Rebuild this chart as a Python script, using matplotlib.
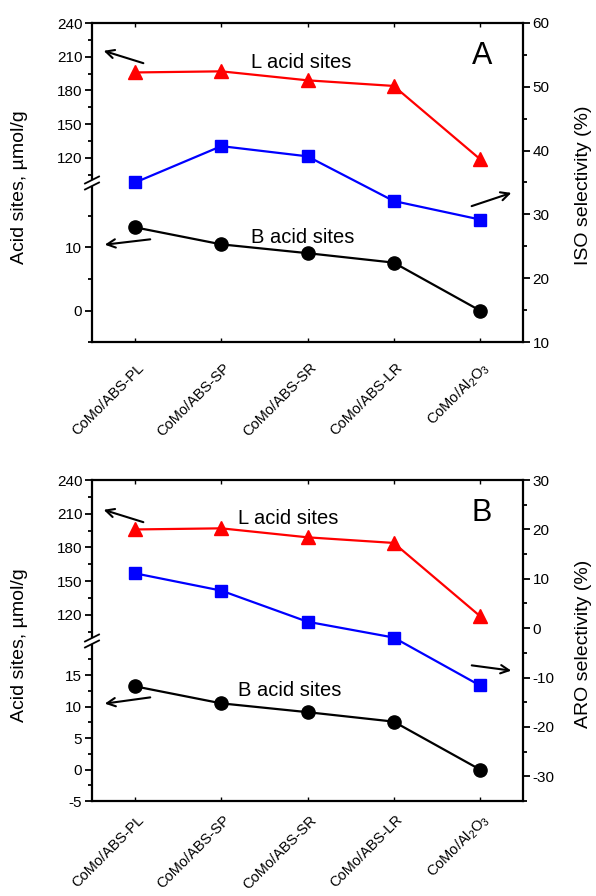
import matplotlib
matplotlib.use('Agg')
import matplotlib.pyplot as plt
import matplotlib.transforms as mtransforms
from matplotlib.ticker import FixedLocator, MultipleLocator
from matplotlib.lines import Line2D

plt.rcParams['font.family'] = ['Liberation Sans', 'DejaVu Sans']
plt.rcParams['mathtext.fontset'] = 'custom'
plt.rcParams['mathtext.rm'] = 'Liberation Sans'
plt.rcParams['mathtext.it'] = 'Liberation Sans:italic'
plt.rcParams['axes.unicode_minus'] = False

# data
catalysts = ['CoMo/ABS-PL', 'CoMo/ABS-SP', 'CoMo/ABS-SR', 'CoMo/ABS-LR',
             r'CoMo/Al$_2$O$_3$']
l_sites = [196, 197, 189, 184, 119]
b_sites = [13.2, 10.5, 9.1, 7.6, 0.0]
iso_sel = [35.0, 40.7, 39.1, 32.1, 29.2]
aro_sel = [11.1, 7.6, 1.3, -1.9, -11.6]

W, H = 596, 896
fig = plt.figure(figsize=(W / 100, H / 100), dpi=100)
LEFT, RIGHT = 92, 523


def fp(x, y):
    """image pixel -> figure fraction"""
    return x / W, 1 - y / H


def panel(top, brk, bottom, sel, sel_lim, sel_label, letter,
          low_major, low_minor, arrows, txt_l, txt_b, xpad):
    x = list(range(len(catalysts)))
    # full frame axes: right axis + x axis
    ax = fig.add_axes([LEFT / W, 1 - bottom / H, (RIGHT - LEFT) / W, (bottom - top) / H])
    ax.set_xlim(-0.5, 4.5)
    ax.set_ylim(*sel_lim)
    ax.spines['left'].set_visible(False)
    for s in ('top', 'right', 'bottom'):
        ax.spines[s].set_linewidth(1.6)
    ax.yaxis.tick_right()
    ax.yaxis.set_label_position('right')
    ax.yaxis.set_major_locator(MultipleLocator(10))
    ax.yaxis.set_minor_locator(MultipleLocator(5))
    ax.tick_params(axis='y', which='major', direction='out', length=5, width=1.3,
                   labelsize=11, pad=2)
    ax.tick_params(axis='y', which='minor', direction='out', length=3, width=1.3)
    ax.set_xticks(x)
    ax.set_xticklabels(catalysts, rotation=45, ha='right', va='center',
                       rotation_mode='anchor', fontsize=10.5)
    ax.tick_params(axis='x', direction='in', top=True, length=3, width=1, pad=xpad)
    shift = mtransforms.ScaledTranslation(7 / 100, 0, fig.dpi_scale_trans)
    for lab in ax.get_xticklabels():
        lab.set_transform(lab.get_transform() + shift)
    ax.plot(x, sel, color='#0000ff', lw=1.6, marker='s', ms=8.5, mec='#0000ff',
            clip_on=False, zorder=3)

    # upper left axis (L acid sites)
    up_lo = 240 - (brk - top) / 1.124
    axu = fig.add_axes([LEFT / W, 1 - brk / H, (RIGHT - LEFT) / W, (brk - top) / H])
    axu.patch.set_visible(False)
    axu.set_xlim(-0.5, 4.5)
    axu.set_ylim(up_lo, 240)
    for s in ('top', 'right', 'bottom'):
        axu.spines[s].set_visible(False)
    axu.spines['left'].set_linewidth(1.6)
    axu.spines['left'].set_bounds(up_lo + 4 / 1.124, 240)
    axu.set_xticks([])
    axu.yaxis.set_major_locator(FixedLocator([120, 150, 180, 210, 240]))
    axu.yaxis.set_minor_locator(FixedLocator([105, 135, 165, 195, 225]))
    axu.tick_params(axis='y', which='major', direction='out', length=5, width=1.3,
                    labelsize=11, pad=2)
    axu.tick_params(axis='y', which='minor', direction='out', length=3, width=1.3)
    axu.plot(x, l_sites, color='#ff0000', lw=1.6, marker='^', ms=10.5,
             mec='#ff0000', clip_on=False, zorder=3)

    # lower left axis (B acid sites)
    pxu = 6.3
    lo_hi = -5 + (bottom - brk) / pxu
    axl = fig.add_axes([LEFT / W, 1 - bottom / H, (RIGHT - LEFT) / W, (bottom - brk) / H])
    axl.patch.set_visible(False)
    axl.set_xlim(-0.5, 4.5)
    axl.set_ylim(-5, lo_hi)
    for s in ('top', 'right', 'bottom'):
        axl.spines[s].set_visible(False)
    axl.spines['left'].set_linewidth(1.6)
    axl.spines['left'].set_bounds(-5, lo_hi - 4 / pxu)
    axl.set_xticks([])
    axl.yaxis.set_major_locator(FixedLocator(low_major))
    axl.yaxis.set_minor_locator(FixedLocator(low_minor))
    axl.tick_params(axis='y', which='major', direction='out', length=5, width=1.3,
                    labelsize=11, pad=2)
    axl.tick_params(axis='y', which='minor', direction='out', length=3, width=1.3)
    axl.plot(x, b_sites, color='black', lw=1.6, marker='o', ms=9.5,
             clip_on=False, zorder=3)

    # axis break marks
    for dy in (-3, 3):
        x0, y0 = fp(LEFT - 7, brk + dy + 3.5)
        x1, y1 = fp(LEFT + 7, brk + dy - 3.5)
        fig.add_artist(Line2D([x0, x1], [y0, y1], color='black', lw=1.3))

    # labels
    lx, ly = fp(20, (top + bottom) / 2 + 5)
    fig.text(lx, ly, 'Acid sites, µmol/g', rotation=90, ha='center', va='center',
             fontsize=14)
    rx, ry = fp(584, (top + bottom) / 2 + 3)
    fig.text(rx, ry, sel_label, rotation=90, ha='center', va='center', fontsize=14)
    tx, ty = fp(482, top + 41)
    fig.text(tx, ty, letter, ha='center', va='baseline', fontsize=22)
    fig.text(*fp(*txt_l), 'L acid sites', ha='left', va='baseline', fontsize=14.5)
    fig.text(*fp(*txt_b), 'B acid sites', ha='left', va='baseline', fontsize=14.5)

    for (tail, head) in arrows:
        fig.add_artist(matplotlib.patches.FancyArrowPatch(
            fp(*tail), fp(*head), transform=fig.transFigure,
            arrowstyle='->,head_length=6,head_width=3', lw=1.5, color='black',
            mutation_scale=1))


panel(23, 183, 342, iso_sel, (10, 60), 'ISO selectivity (%)', 'A',
      [0, 10], [-5, 5, 15],
      [((146, 64), (101, 50)), ((153, 239), (102, 245)), ((469, 207), (514, 192))],
      (251, 68), (251, 243), 17)
panel(480, 641, 801, aro_sel, (-35, 30), 'ARO selectivity (%)', 'B',
      [-5, 0, 5, 10, 15], [-2.5, 2.5, 7.5, 12.5, 17.5],
      [((146, 523), (101, 509)), ((153, 697), (102, 704)), ((469, 665), (514, 671))],
      (238, 524), (238, 696), 12)

fig.savefig('out.png', dpi=100)
